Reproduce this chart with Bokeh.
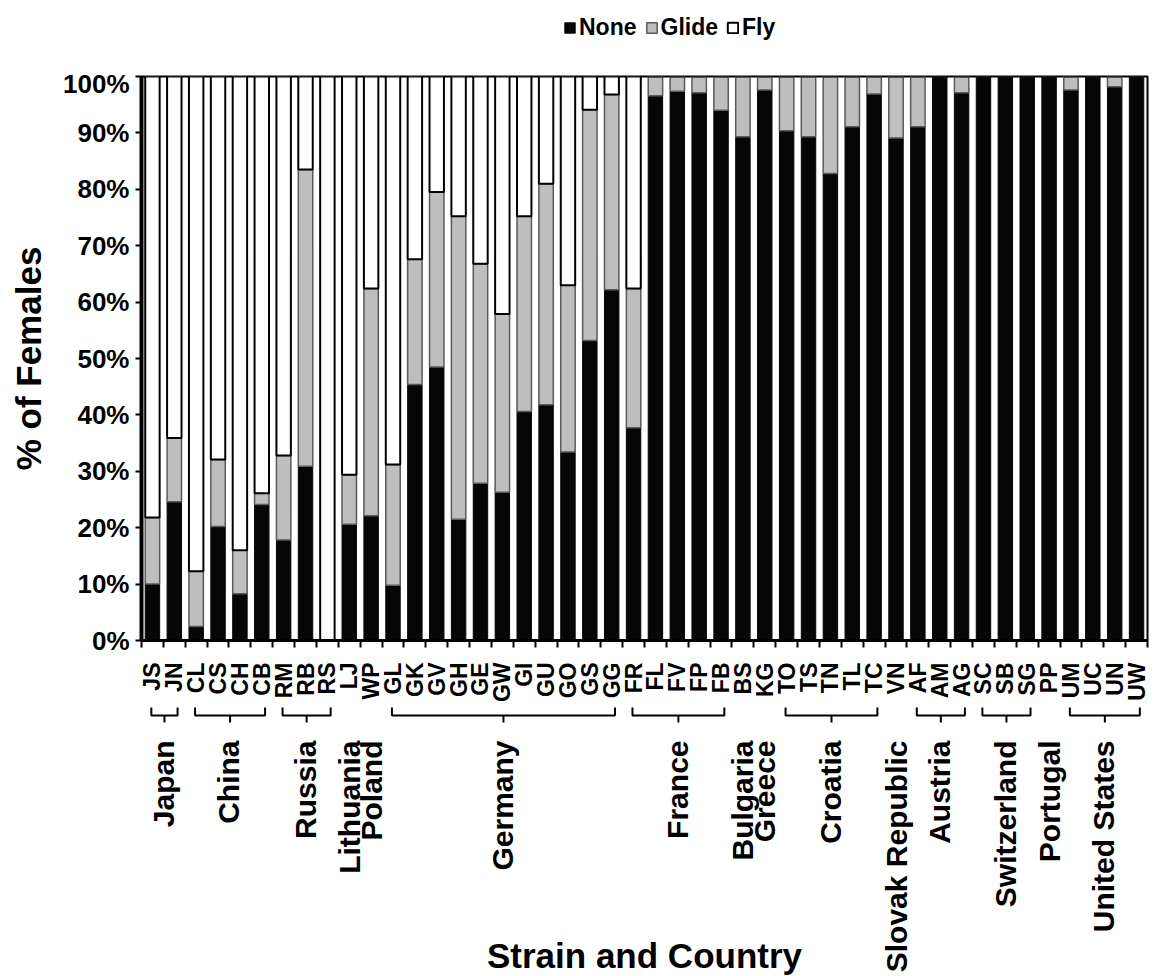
import math
from bokeh.plotting import figure
from bokeh.models import (Range1d, FixedTicker, Legend, LegendItem, BoxAnnotation,
                          PrintfTickFormatter, ColumnDataSource)
from bokeh.layouts import column
from bokeh.embed import file_html
from bokeh.resources import INLINE
from bokeh.core.properties import value

# ---------------- data ----------------
strains = ["JS", "JN", "CL", "CS", "CH", "CB", "RM", "RB", "RS", "LJ", "WP",
           "GL", "GK", "GV", "GH", "GE", "GW", "GI", "GU", "GO", "GS", "GG",
           "FR", "FL", "FV", "FP", "FB", "BS", "KG", "TO", "TS", "TN", "TL",
           "TC", "VN", "AF", "AM", "AG", "SC", "SB", "SG", "PP", "UM", "UC",
           "UN", "UW"]

none_pct = [10.0, 24.6, 2.5, 20.2, 8.3, 24.1, 17.8, 30.9, 0.0, 20.6, 22.1,
            9.8, 45.4, 48.5, 21.5, 27.9, 26.3, 40.6, 41.8, 33.4, 53.2, 62.2,
            37.7, 96.6, 97.4, 97.1, 94.0, 89.3, 97.6, 90.4, 89.3, 82.8, 91.1,
            96.9, 89.1, 91.1, 100.0, 97.1, 100.0, 100.0, 100.0, 100.0, 97.6, 100.0,
            98.2, 100.0]

glide_pct = [11.8, 11.3, 9.8, 11.9, 7.7, 2.0, 15.0, 52.6, 0.0, 8.8, 40.3,
             21.4, 22.2, 31.0, 53.7, 38.9, 31.6, 34.6, 39.2, 29.6, 40.9, 34.6,
             24.7, 3.4, 2.6, 2.9, 6.0, 10.7, 2.4, 9.6, 10.7, 17.2, 8.9,
             3.1, 10.9, 8.9, 0.0, 2.9, 0.0, 0.0, 0.0, 0.0, 2.4, 0.0,
             1.8, 0.0]

fly_pct = [78.2, 64.1, 87.7, 67.9, 84.0, 73.9, 67.2, 16.5, 100.0, 70.6, 37.6,
           68.8, 32.4, 20.5, 24.8, 33.2, 42.1, 24.8, 19.0, 37.0, 5.9, 3.2,
           37.6, 0.0, 0.0, 0.0, 0.0, 0.0, 0.0, 0.0, 0.0, 0.0, 0.0,
           0.0, 0.0, 0.0, 0.0, 0.0, 0.0, 0.0, 0.0, 0.0, 0.0, 0.0,
           0.0, 0.0]

countries = ["Japan", "China", "Russia", "Lithuania", "Poland", "Germany",
             "France", "Bulgaria", "Greece", "Croatia", "Slovak Republic",
             "Austria", "Switzerland", "Portugal", "United States"]
country_first = ["JS", "CL", "RM", "LJ", "WP", "GL", "FR", "BS", "KG", "TO",
                 "VN", "AF", "SC", "PP", "UM"]
country_last = ["JN", "CB", "RS", "LJ", "WP", "GG", "FB", "BS", "KG", "TC",
                "VN", "AG", "SG", "PP", "UW"]

series = ["None", "Glide", "Fly"]
y_ticks = [0, 10, 20, 30, 40, 50, 60, 70, 80, 90, 100]

# ---------------- styling ----------------
FONT = "Liberation Sans"
W = 1153
BLACK = "#060606"
GREY = "#BEBEBE"
FILLS = [BLACK, GREY, "white"]
LINES = [BLACK, "#5a5a5a", "black"]
LWS = [1, 1.5, 2]
BL, BR = 141, 6

xs = list(range(len(strains)))
src = ColumnDataSource(dict(x=xs, strain=strains, none=none_pct,
                            glide=glide_pct, fly=fly_pct))
x_range = Range1d(-0.5, len(strains) - 0.5)


def blank(fig):
    fig.outline_line_color = None
    fig.grid.visible = False
    fig.background_fill_color = "white"
    fig.border_fill_color = "white"


# ---------------- legend strip ----------------
H0 = 68
lg = figure(width=W, height=H0, x_range=x_range, y_range=Range1d(1000, 1001),
            output_backend="svg", toolbar_location=None,
            x_axis_location=None, y_axis_location=None,
            min_border_left=BL, min_border_right=BR,
            min_border_top=0, min_border_bottom=0)
blank(lg)
lrends = lg.vbar_stack(["none", "glide", "fly"], x="x", width=0.66, source=src,
                       fill_color=FILLS, line_color=LINES, line_width=LWS)
# white cover so that only the legend shows in this strip
lg.add_layout(BoxAnnotation(fill_color="white", fill_alpha=1.0, line_alpha=0))
legend = Legend(items=[LegendItem(label=s, renderers=[r]) for s, r in zip(series, lrends)],
                orientation="horizontal", location=(422, 27),
                label_text_font=FONT, label_text_font_style="bold",
                label_text_font_size="23px", label_text_color="black",
                glyph_width=13, glyph_height=13,
                label_standoff=3, spacing=8, padding=0, margin=0,
                border_line_color=None, background_fill_alpha=0)
lg.add_layout(legend)

# ---------------- main chart ----------------
p = figure(width=W, height=638, x_range=x_range, y_range=Range1d(0, 100),
           output_backend="svg", toolbar_location=None,
           min_border_left=BL, min_border_right=BR,
           min_border_top=8, min_border_bottom=66)
blank(p)
p.outline_line_color = "black"
p.outline_line_width = 2

p.vbar_stack(["none", "glide", "fly"], x="x", width=0.66, source=src,
             fill_color=FILLS, line_color=LINES, line_width=LWS)

# y axis
p.yaxis.ticker = FixedTicker(ticks=y_ticks)
p.yaxis.formatter = PrintfTickFormatter(format="%d%%")
p.yaxis.major_label_text_font = FONT
p.yaxis.major_label_text_font_style = "bold"
p.yaxis.major_label_text_font_size = "26px"
p.yaxis.major_label_text_color = "black"
p.yaxis.axis_line_width = 4
p.yaxis.axis_line_color = "black"
p.yaxis.major_tick_out = 6
p.yaxis.major_tick_in = 0
p.yaxis.major_tick_line_width = 2
p.yaxis.minor_tick_out = 0
p.yaxis.minor_tick_in = 0
p.yaxis.major_label_standoff = 6
p.yaxis.axis_label = "% of Females"
p.yaxis.axis_label_text_font = FONT
p.yaxis.axis_label_text_font_style = "bold"
p.yaxis.axis_label_text_font_size = "35px"
p.yaxis.axis_label_text_color = "black"
p.yaxis.axis_label_standoff = 12

# x axis
p.xaxis.ticker = FixedTicker(ticks=xs, minor_ticks=[i - 0.5 for i in range(len(strains) + 1)])
p.xaxis.major_label_overrides = {i: s for i, s in enumerate(strains)}
p.xaxis.major_label_orientation = math.pi / 2
p.xaxis.major_label_text_font = FONT
p.xaxis.major_label_text_font_style = "bold"
p.xaxis.major_label_text_font_size = "23px"
p.xaxis.major_label_text_color = "black"
p.xaxis.major_tick_out = 0
p.xaxis.major_tick_in = 0
p.xaxis.minor_tick_out = 7
p.xaxis.minor_tick_in = 0
p.xaxis.minor_tick_line_width = 2
p.xaxis.minor_tick_line_color = "black"
p.xaxis.axis_line_width = 3
p.xaxis.axis_line_color = "black"
p.xaxis.major_label_standoff = 15

# ---------------- lower panel: country brackets and labels ----------------
H2 = 270
b = figure(width=W, height=H2, x_range=x_range, y_range=Range1d(H2, 0),
           output_backend="svg", toolbar_location=None,
           x_axis_location=None, y_axis_location=None,
           min_border_left=BL, min_border_right=BR,
           min_border_top=0, min_border_bottom=0)
blank(b)

idx = {s: i for i, s in enumerate(strains)}
br_xs, br_ys, lab_x = [], [], []
for c, f, l in zip(countries, country_first, country_last):
    i0, i1 = idx[f], idx[l]
    lab_x.append((i0 + i1) / 2)
    if i1 > i0:
        x0, x1 = i0 - 0.05, i1 + 0.15
        xc = (x0 + x1) / 2
        br_xs.append([x0, x0, x1, x1])
        br_ys.append([1, 9, 9, 1])
        br_xs.append([xc, xc])
        br_ys.append([9, 16])
b.multi_line(xs=br_xs, ys=br_ys, line_color="black", line_width=2)

b.text(x=lab_x, y=[34] * len(countries), text=countries, angle=math.pi / 2,
       text_align="right", text_baseline="middle", text_font=value(FONT),
       text_font_style="bold", text_font_size="30px", text_color="black")

b.text(x=[(x_range.start + x_range.end) / 2], y=[249], text=["Strain and Country"],
       text_align="center", text_baseline="middle", text_font=value(FONT),
       text_font_style="bold", text_font_size="35px", text_color="black")

layout = column(lg, p, b, spacing=0)
open("out.html", "w").write(file_html(layout, INLINE))
